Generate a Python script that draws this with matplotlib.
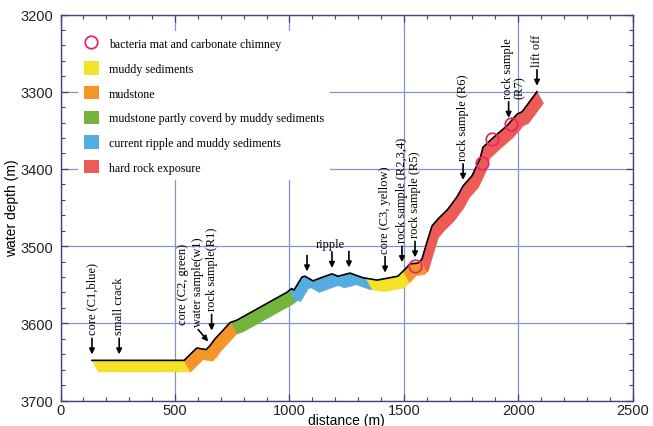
import numpy as np
import matplotlib.pyplot as plt
import matplotlib.transforms as mtransforms
from matplotlib.patches import Patch, Polygon
from matplotlib.lines import Line2D
from matplotlib.ticker import MultipleLocator

# bathymetric profile along the dive track (m)
dist = [137, 540, 595, 636, 653, 675, 704, 741, 770, 988, 1010, 1020, 1055, 1068,
        1103, 1147, 1186, 1212, 1265, 1322, 1383, 1439, 1474, 1505, 1527, 1562,
        1579, 1601, 1623, 1649, 1693, 1733, 1759, 1798, 1833, 1846, 1885, 1951,
        1995, 2017, 2082]
depth = [3648, 3648, 3632, 3634, 3629, 3620, 3611, 3599, 3596, 3560, 3555, 3557,
         3540, 3539, 3545, 3540, 3536, 3539, 3535, 3541, 3544, 3541, 3539, 3530,
         3523, 3522, 3517, 3495, 3474, 3465, 3452, 3436, 3422, 3409, 3387, 3372,
         3361, 3344, 3329, 3326, 3300]

# seafloor units observed along the track
unit_names = ['muddy sediments', 'mudstone',
              'mudstone partly coverd by muddy sediments',
              'current ripple and muddy sediments', 'hard rock exposure']
unit_colors = ['#f4e226', '#f4952a', '#74b43c', '#55acdf', '#ee5a56']
seg_start = [137, 540, 745, 1000, 1335, 1497, 1575]
seg_end = [540, 745, 1000, 1335, 1497, 1575, 2082]
seg_unit = [0, 1, 2, 3, 0, 1, 4]

# bacteria mat / carbonate chimney sites
bact_dist = [1549, 1842, 1885, 1968]
bact_depth = [3526, 3392, 3361, 3342]

# sampling points and observations
labels = ['core (C1,blue)', 'small crack', 'water sample(w1)', 'rock sample(R1)',
          'core (C3, yellow)', 'rock sample (R2,3,4)', 'rock sample (R5)',
          'rock sample (R6)', 'rock sample\n(R7)', 'lift off']
label_dist = [137, 256, 645, 660, 1418, 1492, 1549, 1759, 1958, 2082]
c2_label, c2_dist = 'core (C2, green)', 535
ripple_dist = [1077, 1186, 1260]
ripple_text_dist = 1178

serif = 'Liberation Serif'
sans = 'Liberation Sans'
spine_c = '#46407a'
bact_c = '#e02a6c'
band_dx, band_dy = 28, 15

d_arr = np.asarray(dist, float)
z_arr = np.asarray(depth, float)


def band(d0, d1):
    inner = (d_arr > d0) & (d_arr < d1)
    xs = np.concatenate([[d0], d_arr[inner], [d1]])
    top = np.column_stack([xs, np.interp(xs, d_arr, z_arr)])
    bottom = top + [band_dx, band_dy]
    return np.vstack([top, bottom[::-1]])


fig = plt.figure(figsize=(6.53, 4.27), dpi=100)
ax = fig.add_axes([0.0928, 0.0597, 0.876, 0.904])

for d0, d1, u in zip(seg_start, seg_end, seg_unit):
    ax.add_patch(Polygon(band(d0, d1), closed=True, facecolor=unit_colors[u],
                         edgecolor=unit_colors[u], lw=0.5, zorder=2))

ax.plot(dist, depth, color='black', lw=1.2, zorder=3, solid_joinstyle='round')
ax.plot(bact_dist, bact_depth, ls='none', marker='o', ms=9, mfc='none',
        mec=bact_c, mew=1.3, zorder=4)


def lifted(px, dx=0):
    return mtransforms.offset_copy(ax.transData, fig, x=dx, y=px, units='dots')


arrow_kw = dict(arrowstyle='-|>', color='black', lw=1.2, mutation_scale=8,
                shrinkA=0, shrinkB=0)
extra = {'rock sample(R1)': 7, 'rock sample (R2,3,4)': 4}
lean = {'water sample(w1)': -10}

for text, d in zip(labels, label_dist):
    z = np.interp(d, d_arr, z_arr)
    up = extra.get(text, 0)
    dx = lean.get(text, 0)
    tail = 18 if dx else 22
    ax.annotate('', xy=(d, z), xycoords=lifted(6 + up),
                xytext=(d, z), textcoords=lifted(tail + up, dx),
                arrowprops=arrow_kw, zorder=5)
    if '\n' in text:
        ax.text(d, z, text, transform=lifted(tail + up + 4, -7), rotation=90,
                ha='left', va='bottom', multialignment='left', family=serif,
                fontsize=9, linespacing=1.0)
    else:
        ax.text(d, z, text, transform=lifted(tail + up + 4, dx), rotation=90,
                ha='center', va='bottom', family=serif, fontsize=9)

z = np.interp(c2_dist, d_arr, z_arr)
ax.text(c2_dist, z, c2_label, transform=lifted(36), rotation=90,
        ha='center', va='bottom', family=serif, fontsize=9)

for d in ripple_dist:
    z = np.interp(d, d_arr, z_arr)
    ax.annotate('', xy=(d, z), xycoords=lifted(6), xytext=(d, z),
                textcoords=lifted(22), arrowprops=arrow_kw, zorder=5)
z = np.interp(ripple_text_dist, d_arr, z_arr)
ax.text(ripple_text_dist, z, 'ripple', transform=lifted(25), ha='center',
        va='bottom', family=serif, fontsize=9)

handles = [Line2D([], [], ls='none', marker='o', ms=9, mfc='none', mec=bact_c,
                  mew=1.3, label='bacteria mat and carbonate chimney')]
handles += [Patch(facecolor=c, edgecolor='none', label=n)
            for n, c in zip(unit_names, unit_colors)]
ax.legend(handles=handles, loc='upper left', bbox_to_anchor=(0.030, 0.958),
          borderaxespad=0, frameon=True, fancybox=False, framealpha=1,
          edgecolor='none', facecolor='white',
          prop=dict(family=serif, size=8.6), handlelength=1.3,
          handleheight=1.35, handletextpad=0.8, labelspacing=0.92,
          borderpad=0.5)

ax.set_xlim(0, 2500)
ax.set_ylim(3700, 3200)
ax.set_xticks(range(0, 2501, 500))
ax.set_yticks(range(3200, 3701, 100))
ax.xaxis.set_minor_locator(MultipleLocator(100))
ax.yaxis.set_minor_locator(MultipleLocator(20))
ax.tick_params(which='both', direction='in', top=True, right=True,
               color=spine_c, labelcolor='#222222', labelsize=10.5)
ax.tick_params(which='major', length=5, width=0.9)
ax.tick_params(which='minor', length=3, width=0.8)
ax.tick_params(axis='y', pad=5)
ax.tick_params(axis='x', pad=2)
for lab in ax.get_xticklabels() + ax.get_yticklabels():
    lab.set_family(sans)
for s in ax.spines.values():
    s.set_color(spine_c)
    s.set_linewidth(1.0)

ax.set_axisbelow(True)
ax.grid(True, which='major', color='#8494c8', lw=0.9)

ax.set_xlabel('distance (m)', family=sans, fontsize=10, labelpad=-3)
ax.set_ylabel('water depth (m)', family=sans, fontsize=10, labelpad=1)

fig.savefig('out.png', dpi=100)
